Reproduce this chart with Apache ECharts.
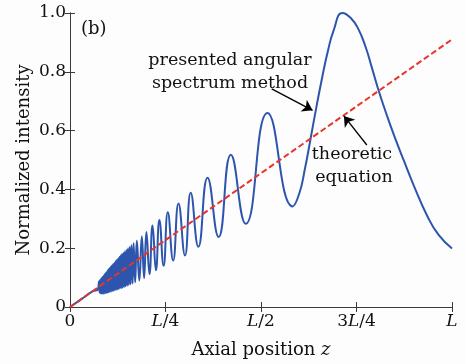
<!DOCTYPE html>
<html>
<head>
<meta charset="utf-8">
<script src="https://cdn.jsdelivr.net/npm/echarts@6/dist/echarts.min.js"></script>
<style>
html,body{margin:0;padding:0;background:#fff;}
#chart{width:465px;height:364px;}
</style>
</head>
<body>
<div id="chart"></div>
<script>
// Axial position (fraction of L) and normalized intensity
const intensityX = [0, 0.03, 0.06, 0.073,
  0.0760, 0.0775, 0.0790, 0.0805, 0.0820, 0.0835, 0.0850, 0.0865, 0.0880, 0.0895,
  0.0910, 0.0925, 0.0940, 0.0955, 0.0970, 0.0985, 0.1000, 0.1015, 0.1030, 0.1046,
  0.1062, 0.1078, 0.1094, 0.1110, 0.1126, 0.1142, 0.1158, 0.1174, 0.1190, 0.1207,
  0.1224, 0.1241, 0.1258, 0.1275, 0.1292, 0.1309, 0.1326, 0.1344, 0.1362, 0.1380,
  0.1398, 0.1417, 0.1436, 0.1456, 0.1476, 0.1497, 0.1518, 0.1540, 0.1562, 0.1586,
  0.1610, 0.1638, 0.1665, 0.1705, 0.1750, 0.1815, 0.1880, 0.1940, 0.2000, 0.2080,
  0.216, 0.225, 0.234, 0.245, 0.256, 0.270, 0.284, 0.301, 0.316, 0.336, 0.360, 0.389,
  0.421, 0.460, 0.517, 0.583, 0.600, 0.615, 0.630, 0.645, 0.660, 0.675, 0.690, 0.713,
  0.735, 0.755, 0.775, 0.790, 0.807, 0.830, 0.850, 0.873, 0.900, 0.934, 0.965, 1.0];
const intensityY = [0, 0.027, 0.054, 0.060,
  0.088, 0.049, 0.093, 0.046, 0.098, 0.046, 0.102, 0.045, 0.106, 0.046,
  0.112, 0.047, 0.117, 0.048, 0.122, 0.049, 0.128, 0.050, 0.132, 0.051,
  0.137, 0.053, 0.141, 0.054, 0.146, 0.055, 0.150, 0.057, 0.156, 0.058,
  0.160, 0.060, 0.165, 0.061, 0.170, 0.063, 0.175, 0.064, 0.180, 0.066,
  0.184, 0.068, 0.189, 0.070, 0.194, 0.072, 0.199, 0.075, 0.204, 0.077,
  0.210, 0.080, 0.217, 0.084, 0.225, 0.090, 0.240, 0.098, 0.255, 0.112,
  0.277, 0.125, 0.296, 0.140, 0.322, 0.158, 0.352, 0.175, 0.389, 0.205, 0.440, 0.238,
  0.518, 0.283, 0.660, 0.342, 0.385, 0.470, 0.574, 0.680, 0.780, 0.870, 0.940, 1.000,
  0.983, 0.945, 0.880, 0.815, 0.740, 0.650, 0.578, 0.501, 0.413, 0.313, 0.245, 0.199];
// Theoretic equation (straight line)
const theoryX = [0, 1];
const theoryY = [0, 0.91];
// Tick labels
const xTickLabels = ['0', '{i|L}/4', '{i|L}/2', '3{i|L}/4', '{i|L}'];
const yTickLabels = ['0', '0.2', '0.4', '0.6', '0.8', '1.0'];
// Annotation arrows (data coordinates)
const arrowMethod = [[0.528, 0.742], [0.635, 0.669]];
const arrowTheory = [[0.777, 0.551], [0.717, 0.650]];

const FONT = 'DejaVu Serif';
const AX = '#3a3a3a';
const chart = echarts.init(document.getElementById('chart'), null, {renderer: 'canvas'});

const blueData = intensityX.map((x, i) => [x, intensityY[i]]);
const redData = theoryX.map((x, i) => [x, theoryY[i]]);

const richItalic = {i: {fontStyle: 'italic', fontFamily: FONT, fontSize: 17, color: '#111'}};

const commonX = {
  type: 'value', min: 0, max: 1, interval: 0.25,
  axisLine: {show: true, lineStyle: {color: AX, width: 1}},
  axisTick: {show: true, inside: true, length: 5, lineStyle: {color: AX}},
  splitLine: {show: false}
};
const commonY = {
  type: 'value', min: 0, max: 1, interval: 0.2,
  axisLine: {show: true, lineStyle: {color: AX, width: 1}},
  axisTick: {show: true, inside: true, length: 5, lineStyle: {color: AX}},
  splitLine: {show: false}
};

chart.setOption({
  backgroundColor: '#fdfdfd',
  animation: false,
  grid: {left: 70, right: 13, top: 13, bottom: 53},
  xAxis: [
    Object.assign({}, commonX, {
      position: 'bottom',
      name: 'Axial position {i|z}',
      nameLocation: 'middle', nameGap: 34,
      nameTextStyle: {fontFamily: FONT, fontSize: 18, color: '#111', rich: {i: {fontStyle: 'italic', fontFamily: FONT, fontSize: 18, color: '#111'}}},
      axisLabel: {
        margin: 6, fontFamily: FONT, fontSize: 17, color: '#111', rich: richItalic,
        formatter: v => xTickLabels[Math.round(v / 0.25)]
      }
    }),
    Object.assign({}, commonX, {position: 'top', axisLabel: {show: false}})
  ],
  yAxis: [
    Object.assign({}, commonY, {
      position: 'left',
      name: 'Normalized intensity',
      nameLocation: 'middle', nameGap: 37, nameMoveOverlap: false,
      nameTextStyle: {fontFamily: FONT, fontSize: 18, color: '#111'},
      axisLabel: {
        margin: 4, fontFamily: FONT, fontSize: 17, color: '#111',
        formatter: v => yTickLabels[Math.round(v / 0.2)]
      }
    }),
    Object.assign({}, commonY, {position: 'right', axisLabel: {show: false}})
  ],
  series: [
    {
      type: 'line', data: blueData, showSymbol: false, smooth: 0.5,
      lineStyle: {color: '#2d55ad', width: 2},
      z: 2
    },
    {
      type: 'line', data: redData, showSymbol: false,
      lineStyle: {color: '#e8352b', width: 2, type: [6, 3]},
      z: 3,
      markLine: {
        silent: true, symbol: ['none', 'arrow'], symbolSize: 10,
        lineStyle: {color: '#000', width: 1.3, type: 'solid'},
        label: {show: false},
        z: 10,
        data: [
          [{coord: arrowMethod[0]}, {coord: arrowMethod[1]}],
          [{coord: arrowTheory[0]}, {coord: arrowTheory[1]}]
        ]
      }
    }
  ],
  graphic: [
    {type: 'text', left: 81, top: 20, style: {text: '(b)', font: '18px "DejaVu Serif"', fill: '#111'}},
    {type: 'text', x: 230, y: 60, style: {text: 'presented angular', font: '17.5px "DejaVu Serif"', fill: '#111', align: 'center', verticalAlign: 'middle'}},
    {type: 'text', x: 230, y: 83, style: {text: 'spectrum method', font: '17.5px "DejaVu Serif"', fill: '#111', align: 'center', verticalAlign: 'middle'}},
    {type: 'text', x: 352, y: 154, style: {text: 'theoretic', font: '17.5px "DejaVu Serif"', fill: '#111', align: 'center', verticalAlign: 'middle'}},
    {type: 'text', x: 354, y: 177, style: {text: 'equation', font: '17.5px "DejaVu Serif"', fill: '#111', align: 'center', verticalAlign: 'middle'}}
  ]
});
</script>
</body>
</html>
